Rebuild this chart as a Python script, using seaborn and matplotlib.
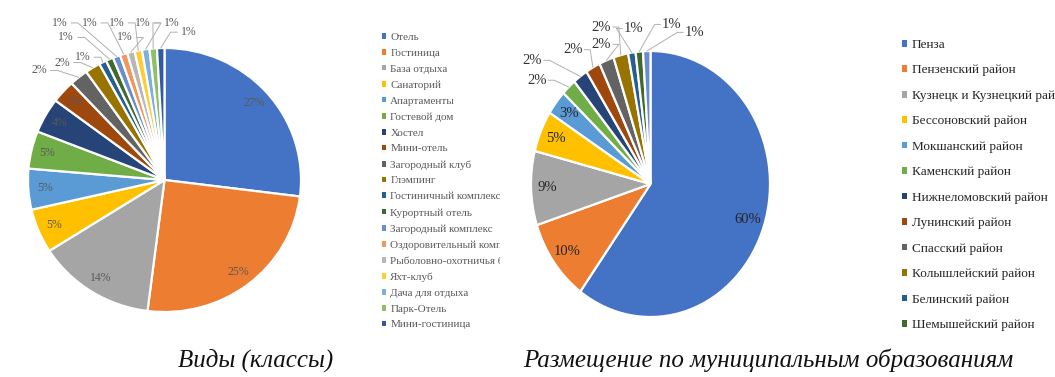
import numpy as np
import matplotlib
matplotlib.use("Agg")
import matplotlib.pyplot as plt
import seaborn as sns
from matplotlib.patches import Patch
from matplotlib.transforms import Bbox

# ---------------- data ----------------
types = ["Отель", "Гостиница", "База отдыха", "Санаторий", "Апартаменты",
         "Гостевой дом", "Хостел", "Мини-отель", "Загородный клуб", "Глэмпинг",
         "Гостиничный комплекс", "Курортный отель", "Загородный комплекс",
         "Оздоровительный комплекс", "Рыболовно-охотничья база", "Яхт-клуб",
         "Дача для отдыха", "Парк-Отель", "Мини-гостиница"]
types_share = [27, 25, 14, 5.4, 5.0, 4.6, 4.3, 2.8, 2.2, 1.8,
               0.88, 0.88, 0.88, 0.88, 0.88, 0.88, 0.88, 0.88, 0.88]

districts = ["Пенза", "Пензенский район", "Кузнецк и Кузнецкий район",
             "Бессоновский район", "Мокшанский район", "Каменский район",
             "Нижнеломовский район", "Лунинский район", "Спасский район",
             "Колышлейский район", "Белинский район", "Шемышейский район",
             "Сердобский район"]
districts_share = [60, 10, 9, 5, 3, 2, 2, 2, 2, 2, 1, 1, 1]
districts_in_legend = 12

caption_left = "Виды (классы)"
caption_right = "Размещение по муниципальным образованиям"

office = ["#4472C4", "#ED7D31", "#A5A5A5", "#FFC000", "#5B9BD5", "#70AD47",
          "#264478", "#9E480E", "#636363", "#997300", "#255E91", "#43682B",
          "#698ED0", "#F1975A", "#B7B7B7", "#FFCD33", "#7CAFDD", "#8CC168",
          "#335AA1"]

# ---------------- style ----------------
sns.set_theme(style="white")
plt.rcParams["font.family"] = ["Liberation Serif", "DejaVu Serif"]

W, H = 1055, 377
fig = plt.figure(figsize=(W / 100, H / 100), dpi=100)
fig.patch.set_facecolor("white")

# outside label positions (in pie-radius units) for the small slices
left_out = [(-0.92, 0.83), (-0.75, 0.89), (-0.60, 0.93), (-0.72, 1.08),
            (-0.77, 1.19), (-0.55, 1.19), (-0.29, 1.08), (-0.35, 1.19),
            (-0.16, 1.19), (0.05, 1.19), (0.18, 1.12)]
right_out = [(-0.95, 0.78), (-0.99, 0.93), (-0.65, 1.01), (-0.41, 1.05),
             (-0.41, 1.18), (-0.14, 1.17), (0.18, 1.20), (0.37, 1.14)]


def draw_pie(ax, shares, colors, inside_min, pctdist, fs_in, col_in,
             out_pos, fs_out, col_out, halfw):
    wedges, _ = ax.pie(shares, colors=colors, startangle=90, counterclock=False,
                       wedgeprops=dict(edgecolor="white", linewidth=1.6))
    total = float(sum(shares))
    k = 0
    for w, s in zip(wedges, shares):
        pct = 100.0 * s / total
        mid = np.deg2rad((w.theta1 + w.theta2) / 2.0)
        lab = f"{pct:.0f}%"
        if s >= inside_min:
            ax.text(pctdist * np.cos(mid), pctdist * np.sin(mid), lab,
                    ha="center", va="center", fontsize=fs_in, color=col_in)
        else:
            lx, ly = out_pos[k]
            k += 1
            ex, ey = np.cos(mid), np.sin(mid)
            ax.text(lx, ly, lab, ha="center", va="center", fontsize=fs_out,
                    color=col_out, clip_on=False)
            side = 1 if ex > lx else -1
            sx = lx + side * halfw
            ax.plot([sx, sx + side * 0.05, ex], [ly, ly, ey],
                    color="#B0B0B0", lw=0.7, clip_on=False)
    ax.set_aspect("auto")
    ax.set_xlim(-1, 1)
    ax.set_ylim(-1, 1)
    ax.axis("off")
    return wedges


# left pie: centre (164.5,180) rx 136.5 ry 132
axL = fig.add_axes([(164.5 - 136.5) / W, (H - 180 - 132) / H, 273 / W, 264 / H])
pal_left = sns.color_palette(office[:len(types)])
wl = draw_pie(axL, types_share, pal_left, 2.5, 0.88, 8.5, "#595959",
              left_out, 8.5, "#595959", 0.085)

# right pie: centre (650.5,184) rx 119.5 ry 133
axR = fig.add_axes([(650.5 - 119.5) / W, (H - 184 - 133) / H, 239 / W, 266 / H])
pal_right = sns.color_palette(office[:len(districts)])
wr = draw_pie(axR, districts_share, pal_right, 2.5, 0.86, 10.5, "#262626",
              right_out, 10.5, "#333333", 0.095)

# legends
hl = [Patch(facecolor=c, edgecolor="none") for c in pal_left]
legL = fig.legend(hl, types, loc="upper left",
                  bbox_to_anchor=(382 / W, 1 - 33 / H), frameon=False,
                  fontsize=8, handlelength=0.4, handleheight=0.4,
                  handletextpad=0.35, labelspacing=0.61, borderpad=0,
                  borderaxespad=0, labelcolor="#595959")
clipL = Bbox.from_extents(0, 0, 500, H)
for t in legL.get_texts():
    t.set_clip_box(clipL)
    t.set_clip_on(True)

hr = [Patch(facecolor=c, edgecolor="none") for c in pal_right[:districts_in_legend]]
legR = fig.legend(hr, districts[:districts_in_legend], loc="upper left",
                  bbox_to_anchor=(902 / W, 1 - 39 / H), frameon=False,
                  fontsize=9.5, handlelength=0.4, handleheight=0.4,
                  handletextpad=0.35, labelspacing=1.02, borderpad=0,
                  borderaxespad=0, labelcolor="#262626")

# captions
fig.text(256 / W, 1 - 360 / H, caption_left, ha="center", va="center",
         fontsize=18, style="italic", color="#111111")
fig.text(768 / W, 1 - 360 / H, caption_right, ha="center", va="center",
         fontsize=18, style="italic", color="#111111")

fig.savefig("out.png", dpi=100, facecolor="white")
